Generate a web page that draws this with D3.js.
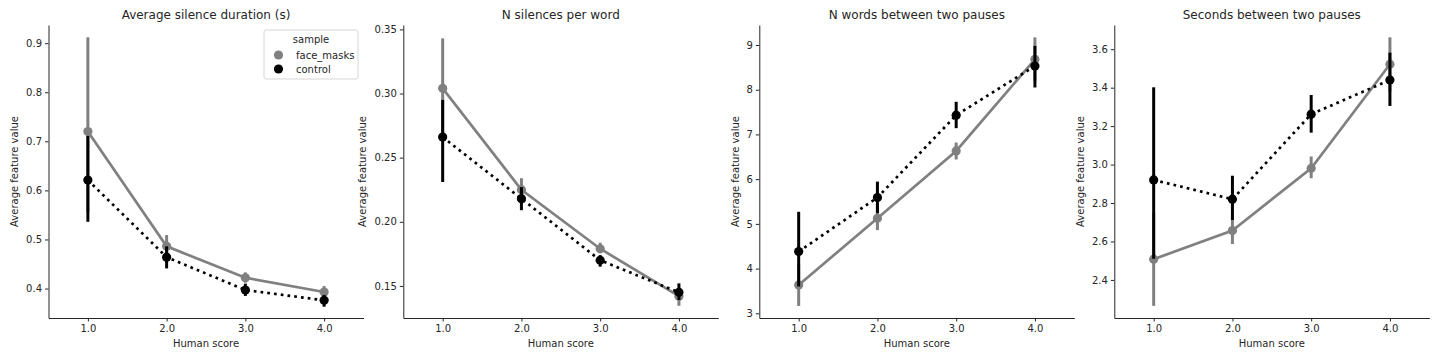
<!DOCTYPE html>
<html>
<head>
<meta charset="utf-8">
<script src="https://cdn.jsdelivr.net/npm/d3@7"></script>
<style>
  body { margin: 0; background: #fff; }
  text { font-family: "DejaVu Sans", sans-serif; fill: #262626; }
</style>
</head>
<body>
<div id="chart"></div>
<script>
// human score categories
var scores = [1.0, 2.0, 3.0, 4.0]
var titles = ["Average silence duration (s)", "N silences per word",
    "N words between two pauses", "Seconds between two pauses"]

// means and CI per panel, face_masks
var mask_mean = [
    [0.720, 0.486, 0.422, 0.393],
    [0.304, 0.225, 0.179, 0.142],
    [3.635, 5.125, 6.63, 8.68],
    [2.508, 2.657, 2.981, 3.522]]
var mask_lo = [
    [0.555, 0.465, 0.412, 0.380],
    [0.266, 0.217, 0.1755, 0.1345],
    [3.165, 4.86, 6.44, 8.2],
    [2.265, 2.587, 2.929, 3.38]]
var mask_hi = [
    [0.912, 0.509, 0.433, 0.405],
    [0.343, 0.234, 0.1837, 0.147],
    [4.1, 5.40, 6.82, 9.17],
    [2.75, 2.72, 3.042, 3.662]]

// control
var ctrl_mean = [
    [0.621, 0.464, 0.397, 0.376],
    [0.266, 0.218, 0.170, 0.145],
    [4.38, 5.59, 7.43, 8.53],
    [2.920, 2.820, 3.262, 3.440]]
var ctrl_lo = [
    [0.536, 0.441, 0.385, 0.363],
    [0.231, 0.209, 0.165, 0.139],
    [3.6, 5.24, 7.14, 8.05],
    [2.51, 2.712, 3.166, 3.305]]
var ctrl_hi = [
    [0.711, 0.486, 0.410, 0.387],
    [0.295, 0.227, 0.174, 0.152],
    [5.27, 5.945, 7.73, 8.98],
    [3.402, 2.942, 3.362, 3.582]]

var y_domains = [[0.340, 0.937], [0.125, 0.3534], [2.895, 9.447], [2.202, 3.726]]
var y_ticks = [
    [0.4, 0.5, 0.6, 0.7, 0.8, 0.9],
    [0.15, 0.20, 0.25, 0.30, 0.35],
    [3, 4, 5, 6, 7, 8, 9],
    [2.4, 2.6, 2.8, 3.0, 3.2, 3.4, 3.6]]
var y_formats = [".1f", ".2f", "d", ".1f"]

var axis_left = [48.5, 403.3, 759.3, 1114.3]
var axis_width = 315
var plot_top = 25, plot_bottom = 318

var svg = d3.select("#chart").append("svg")
    .attr("width", 1440)
    .attr("height", 360)

var series = [
    { name: "face_masks", color: "#808080", mean: mask_mean, lo: mask_lo, hi: mask_hi, dash: null },
    { name: "control", color: "#000000", mean: ctrl_mean, lo: ctrl_lo, hi: ctrl_hi, dash: "2.7,4.1" }]

for (var p = 0; p < 4; ++p) {
    var g = svg.append("g").attr("transform", "translate(" + axis_left[p] + ",0)")
    var x = d3.scaleLinear().domain([0.5, 4.5]).range([0, axis_width])
    var y = d3.scaleLinear().domain(y_domains[p]).range([plot_bottom, plot_top])

    g.append("g")
        .attr("transform", "translate(0," + plot_bottom + ")")
        .call(d3.axisBottom(x).tickValues(scores).tickFormat(d3.format(".1f")).tickSize(3.5).tickSizeOuter(0).tickPadding(3))
    g.append("g")
        .call(d3.axisLeft(y).tickValues(y_ticks[p]).tickFormat(d3.format(y_formats[p])).tickSize(3.5).tickSizeOuter(0).tickPadding(3))
    g.selectAll(".domain").attr("stroke", "#262626").attr("stroke-width", 1)
    g.selectAll(".tick line").attr("stroke", "#262626")
    g.selectAll(".tick text").attr("font-size", 10).style("font-family", "DejaVu Sans, sans-serif").attr("fill", "#262626")

    g.append("text")
        .attr("x", axis_width / 2)
        .attr("y", 19)
        .attr("text-anchor", "middle")
        .attr("font-size", 12)
        .text(titles[p])
    g.append("text")
        .attr("x", axis_width / 2)
        .attr("y", 347)
        .attr("text-anchor", "middle")
        .attr("font-size", 10)
        .text("Human score")
    var lab_x = [14.5, 362.5, 735, 1080][p] - axis_left[p]
    g.append("text")
        .attr("transform", "translate(" + (lab_x + 3.5) + "," + ((plot_top + plot_bottom) / 2) + ") rotate(-90)")
        .attr("text-anchor", "middle")
        .attr("font-size", 10)
        .text("Average feature value")

    series.forEach(function (s) {
        var pts = scores.map(function (sc, i) {
            return { x: sc, m: s.mean[p][i], lo: s.lo[p][i], hi: s.hi[p][i] }
        })
        var line = d3.line().x(function (d) { return x(d.x) }).y(function (d) { return y(d.m) })
        g.append("path")
            .datum(pts)
            .attr("d", line)
            .attr("fill", "none")
            .attr("stroke", s.color)
            .attr("stroke-width", 2.7)
            .attr("stroke-dasharray", s.dash)
        g.selectAll(null).data(pts).enter().append("line")
            .attr("x1", function (d) { return x(d.x) })
            .attr("x2", function (d) { return x(d.x) })
            .attr("y1", function (d) { return y(d.lo) })
            .attr("y2", function (d) { return y(d.hi) })
            .attr("stroke", s.color)
            .attr("stroke-width", 3)
        g.selectAll(null).data(pts).enter().append("circle")
            .attr("cx", function (d) { return x(d.x) })
            .attr("cy", function (d) { return y(d.m) })
            .attr("r", 4.6)
            .attr("fill", s.color)
    })
}

// legend in the first panel
var lg = svg.append("g").attr("transform", "translate(264,30)")
lg.append("rect")
    .attr("width", 94).attr("height", 49).attr("rx", 2)
    .attr("fill", "#fff").attr("fill-opacity", 0.8)
    .attr("stroke", "#d6d6d6").attr("stroke-width", 1)
lg.append("text").attr("x", 47).attr("y", 13).attr("text-anchor", "middle").attr("font-size", 10).text("sample")
series.forEach(function (s, i) {
    lg.append("circle").attr("cx", 14.5).attr("cy", 25 + i * 14).attr("r", 4.6).attr("fill", s.color)
    lg.append("text").attr("x", 32).attr("y", 28.5 + i * 14).attr("font-size", 10).text(s.name)
})
</script>
</body>
</html>
